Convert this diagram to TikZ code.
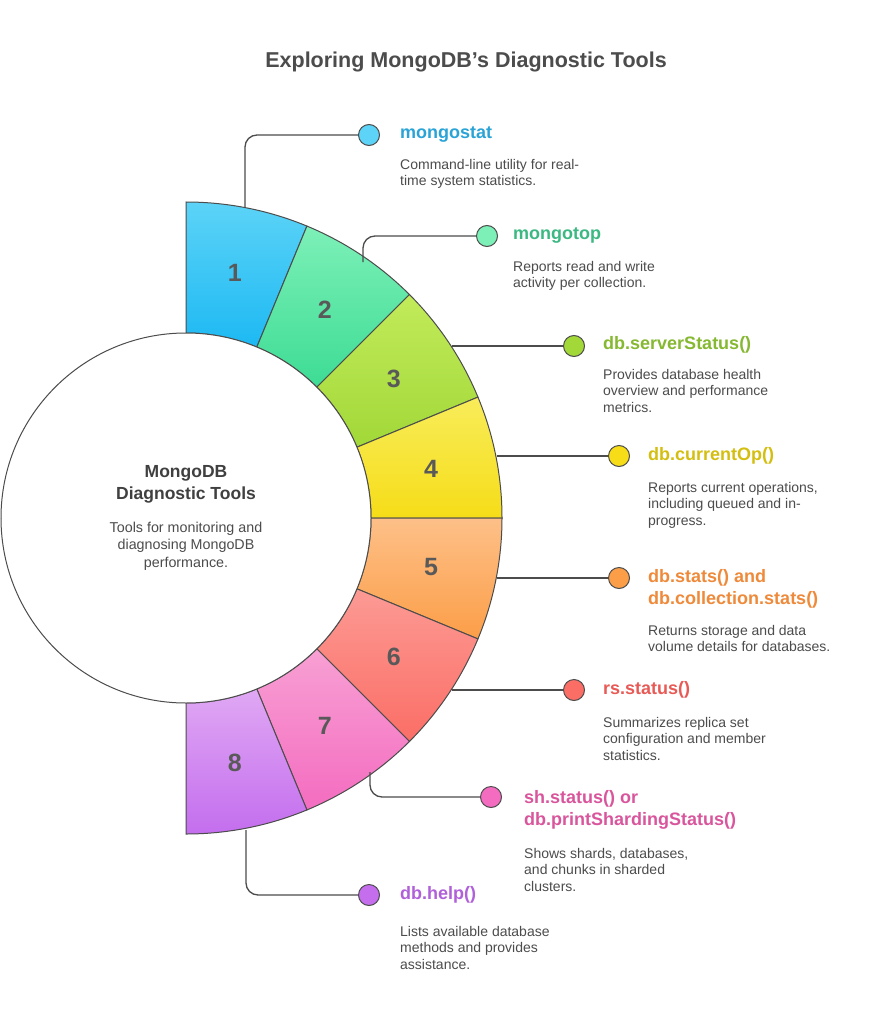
\documentclass[tikz,border=0pt]{standalone}
\usepackage{fontspec}
\setmainfont{Liberation Sans}
\usetikzlibrary{calc}
\begin{document}
\begin{tikzpicture}[x=1pt,y=1pt,
  seg/.style={draw=black!70,line width=1pt},
  num/.style={font=\fontsize{25}{25}\selectfont\bfseries,text=black!65},
  dot/.style={circle,draw=black!70,line width=1pt,minimum size=21pt,inner sep=0pt},
  conn/.style={draw=black!70,line width=1.3pt,rounded corners=12pt},
  ttl/.style={anchor=west,font=\fontsize{18}{22}\selectfont\bfseries,align=left,inner sep=0pt},
  dsc/.style={anchor=north west,font=\fontsize{14}{16.5}\selectfont,text=black!70,align=left,inner sep=0pt}]
\useasboundingbox (0,0) rectangle (883,-1024);
\fill[white] (0,0) rectangle (883,-1024);
\node[font=\fontsize{21.5}{24}\selectfont\bfseries,text=black!70] (title) at (466,-62) {Exploring MongoDB\symbol{39}s Diagnostic Tools};
\coordinate (C) at (186,-518);
\def\wedge#1#2#3{%
  \pgfmathsetmacro\aa{90-22.5*(#1-1)}\pgfmathsetmacro\ab{90-22.5*#1}\pgfmathsetmacro\am{90-22.5*(#1-0.5)}%
  \path[seg,top color=#2,bottom color=#3] ($(C)+(\aa:316)$) arc[start angle=\aa,end angle=\ab,radius=316] -- ($(C)+(\ab:185)$) arc[start angle=\ab,end angle=\aa,radius=185] -- cycle;
  \node[num] (n#1) at ($(C)+(\am:250)$) {#1};}
\definecolor{c1}{HTML}{2AA3D6}\definecolor{c2}{HTML}{3CB882}\definecolor{c3}{HTML}{86B832}\definecolor{c4}{HTML}{D4BE10}
\definecolor{c5}{HTML}{EE8A3A}\definecolor{c6}{HTML}{E85A55}\definecolor{c7}{HTML}{D9559C}\definecolor{c8}{HTML}{B060D8}
\definecolor{a1}{HTML}{5CD3F7}\definecolor{b1}{HTML}{1DB9F3}
\definecolor{a2}{HTML}{7DF0B8}\definecolor{b2}{HTML}{3DDC94}
\definecolor{a3}{HTML}{C2EB5A}\definecolor{b3}{HTML}{A2D838}
\definecolor{a4}{HTML}{F8EC5A}\definecolor{b4}{HTML}{F6DD18}
\definecolor{a5}{HTML}{FDC088}\definecolor{b5}{HTML}{FC9E48}
\definecolor{a6}{HTML}{FC9A94}\definecolor{b6}{HTML}{FB6E66}
\definecolor{a7}{HTML}{F8A0D4}\definecolor{b7}{HTML}{F46CC0}
\definecolor{a8}{HTML}{E0A8F4}\definecolor{b8}{HTML}{C46EEE}
\wedge{1}{a1}{b1}
\wedge{2}{a2}{b2}
\wedge{3}{a3}{b3}
\wedge{4}{a4}{b4}
\wedge{5}{a5}{b5}
\wedge{6}{a6}{b6}
\wedge{7}{a7}{b7}
\wedge{8}{a8}{b8}
\node[circle,draw=black!70,line width=1pt,fill=white,minimum size=370pt] (center) at (C) {};
\node[font=\fontsize{17.5}{22}\selectfont\bfseries,text=black!75,align=center] (ct) at (186,-484) {MongoDB\\Diagnostic Tools};
\node[font=\fontsize{14.3}{17.5}\selectfont,text=black!70,align=center] (cd) at (186,-546) {Tools for monitoring and\\diagnosing MongoDB\\performance.};
% connectors
\coordinate (s1) at (245,-208); \coordinate (s2) at (363,-262); \coordinate (s3) at (452,-346); \coordinate (s4) at (497,-456);
\coordinate (s5) at (497,-578); \coordinate (s6) at (452,-690); \coordinate (s7) at (370,-772); \coordinate (s8) at (246,-830);
\node[dot,fill=a1] (d1) at (369,-135) {};
\node[dot,fill=a2] (d2) at (487,-236) {};
\node[dot,fill=b3] (d3) at (574,-346) {};
\node[dot,fill=b4] (d4) at (619,-456) {};
\node[dot,fill=b5] (d5) at (619,-578) {};
\node[dot,fill=b6] (d6) at (574,-690) {};
\node[dot,fill=b7] (d7) at (491,-797) {};
\node[dot,fill=b8] (d8) at (369,-895) {};
\draw[conn] (s1) |- (d1.west);
\draw[conn] (s2) |- (d2.west);
\draw[conn] (s3) -- (d3.west);
\draw[conn] (s4) -- (d4.west);
\draw[conn] (s5) -- (d5.west);
\draw[conn] (s6) -- (d6.west);
\draw[conn] (s7) |- (d7.west);
\draw[conn] (s8) |- (d8.west);
% labels
\node[ttl,text=c1] (t1) at (400,-135) {mongostat};
\node[dsc] (e1) at (400,-159) {Command-line utility for real-\\time system statistics.};
\node[ttl,text=c2] (t2) at (513,-236) {mongotop};
\node[dsc] (e2) at (513,-261) {Reports read and write\\activity per collection.};
\node[ttl,text=c3] (t3) at (603,-345) {db.serverStatus()};
\node[dsc] (e3) at (603,-369) {Provides database health\\overview and performance\\metrics.};
\node[ttl,text=c4] (t4) at (648,-456) {db.currentOp()};
\node[dsc] (e4) at (648,-482) {Reports current operations,\\including queued and in-\\progress.};
\node[ttl,text=c5] (t5) at (648,-589) {db.stats() and\\db.collection.stats()};
\node[dsc] (e5) at (648,-625) {Returns storage and data\\volume details for databases.};
\node[ttl,text=c6] (t6) at (603,-690) {rs.status()};
\node[dsc] (e6) at (603,-717) {Summarizes replica set\\configuration and member\\statistics.};
\node[ttl,text=c7] (t7) at (524,-810) {sh.status() or\\db.printShardingStatus()};
\node[dsc] (e7) at (524,-848) {Shows shards, databases,\\and chunks in sharded\\clusters.};
\node[ttl,text=c8] (t8) at (400,-895) {db.help()};
\node[dsc] (e8) at (400,-926) {Lists available database\\methods and provides\\assistance.};
\end{tikzpicture}
\end{document}
